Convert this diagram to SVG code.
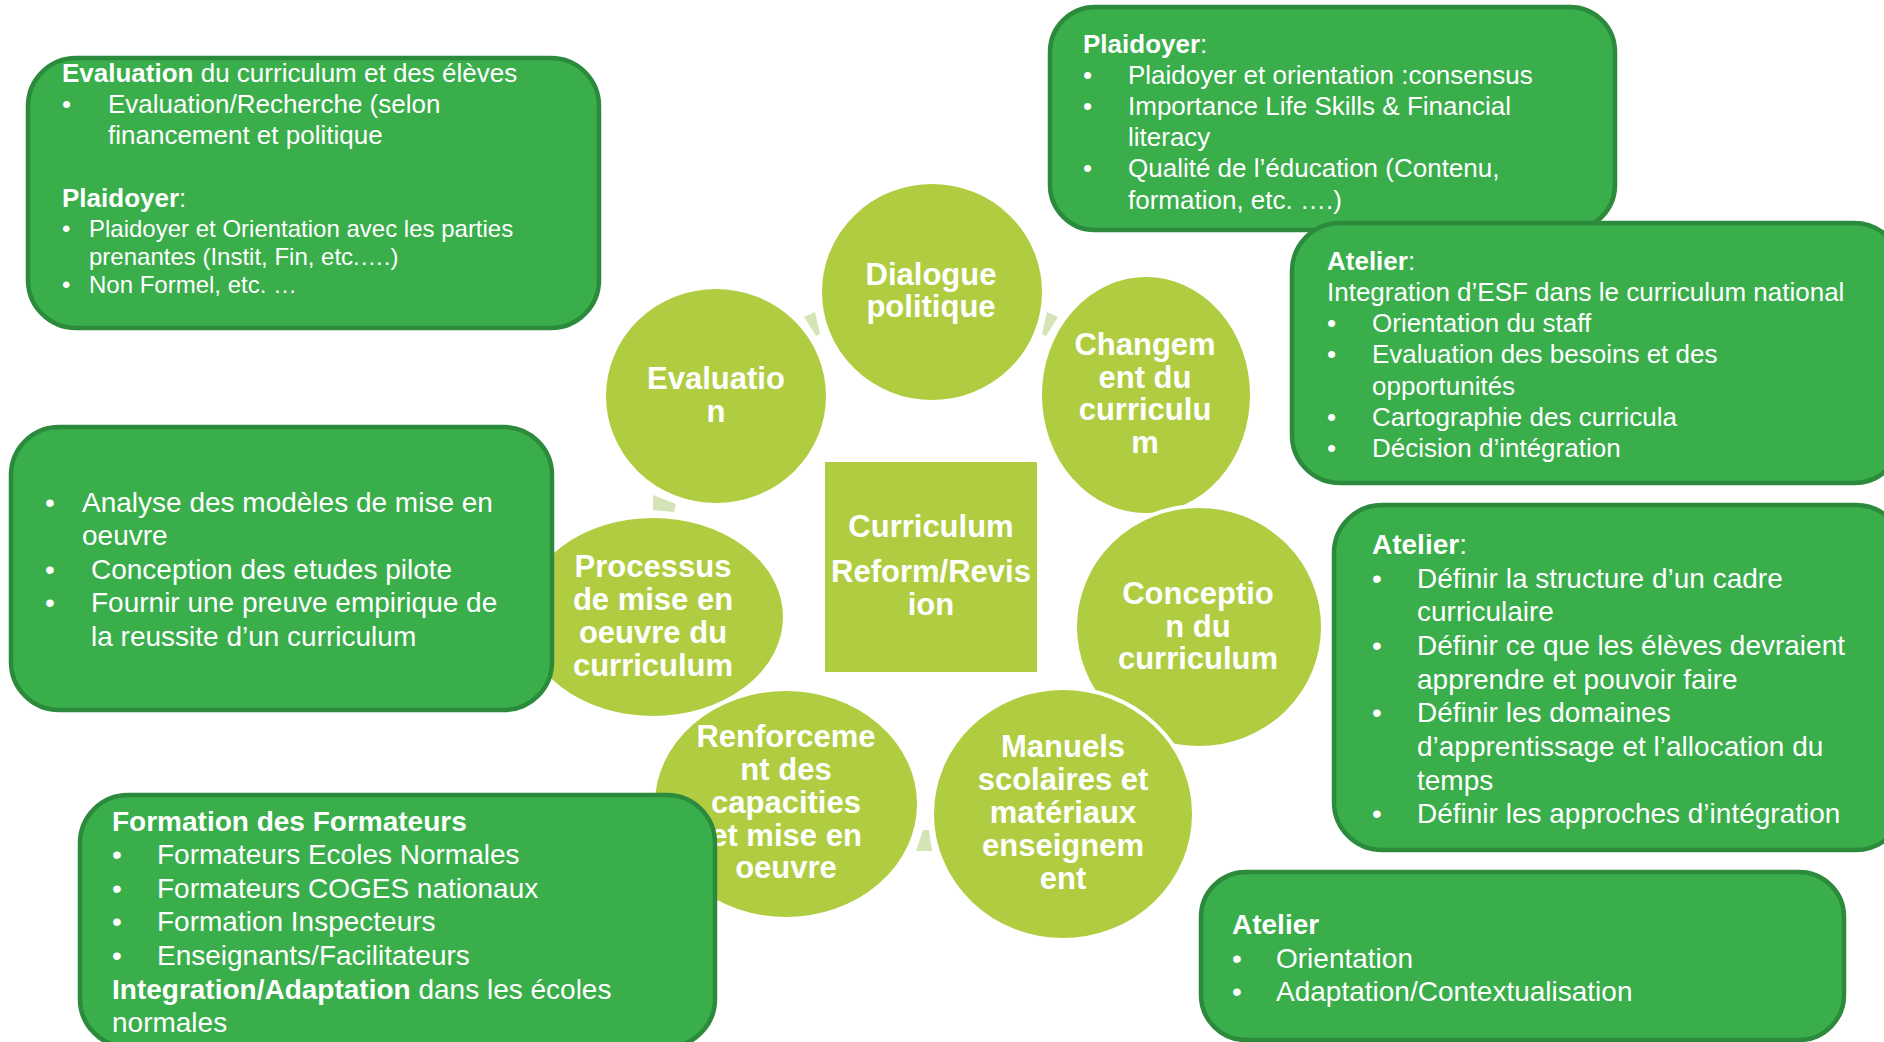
<svg xmlns="http://www.w3.org/2000/svg" width="1884" height="1042" viewBox="0 0 1884 1042">
<style>
.c{fill:#B0CD41;stroke:#FFFFFF;stroke-width:4}
.sq{fill:#B0CD41}
.ct{font-family:"Liberation Sans",Arial,sans-serif;font-weight:bold;font-size:31px;fill:#FFFFFF;text-anchor:middle}
.box{fill:#39AE4B;stroke:#2B8A3B;stroke-width:4.5}
.t{font-family:"Liberation Sans",Arial,sans-serif;fill:#FFFFFF}
.s24{font-size:24px}
.s26{font-size:26px}
.s28{font-size:28px}
.b{font-weight:bold}
.arr{fill:#D5E4B6}
</style>
<rect width="1884" height="1042" fill="#FFFFFF"/>
<g id="connectors">
<polygon class="arr" points="804,317 815,312 820,334 816,336"/>
<polygon class="arr" points="1058,317 1047,312 1042,334 1046,336"/>
<polygon class="arr" points="653,495 676,504 674,512 653,510"/>
<polygon class="arr" points="923,830 929,830 932,851 916,851"/>
</g>
<g id="node-dialogue">
<ellipse class="c" cx="932" cy="292" rx="112" ry="110"/>
<text class="ct" x="931" y="285">Dialogue</text>
<text class="ct" x="931" y="317">politique</text>
</g>
<g id="node-changement">
<ellipse class="c" cx="1146" cy="395" rx="106" ry="120"/>
<text class="ct" x="1145" y="355">Changem</text>
<text class="ct" x="1145" y="388">ent du</text>
<text class="ct" x="1145" y="420">curriculu</text>
<text class="ct" x="1145" y="453">m</text>
</g>
<g id="node-conception">
<ellipse class="c" cx="1199" cy="627" rx="124" ry="121"/>
<text class="ct" x="1198" y="604">Conceptio</text>
<text class="ct" x="1198" y="637">n du</text>
<text class="ct" x="1198" y="669">curriculum</text>
</g>
<g id="node-manuels">
<ellipse class="c" cx="1063" cy="814" rx="131" ry="126"/>
<text class="ct" x="1063" y="757">Manuels</text>
<text class="ct" x="1063" y="790">scolaires et</text>
<text class="ct" x="1063" y="823">matériaux</text>
<text class="ct" x="1063" y="856">enseignem</text>
<text class="ct" x="1063" y="889">ent</text>
</g>
<g id="node-renforcement">
<ellipse class="c" cx="786" cy="804" rx="133" ry="115"/>
<text class="ct" x="786" y="747">Renforceme</text>
<text class="ct" x="786" y="780">nt des</text>
<text class="ct" x="786" y="813">capacities</text>
<text class="ct" x="786" y="846">et mise en</text>
<text class="ct" x="786" y="878">oeuvre</text>
</g>
<g id="node-processus">
<ellipse class="c" cx="653" cy="617" rx="132" ry="101"/>
<text class="ct" x="653" y="577">Processus</text>
<text class="ct" x="653" y="610">de mise en</text>
<text class="ct" x="653" y="643">oeuvre du</text>
<text class="ct" x="653" y="676">curriculum</text>
</g>
<g id="node-evaluation">
<ellipse class="c" cx="716" cy="396" rx="112" ry="109"/>
<text class="ct" x="716" y="389">Evaluatio</text>
<text class="ct" x="716" y="422">n</text>
</g>
<g id="node-center">
<rect class="sq" x="825" y="462" width="212" height="210"/>
<text class="ct" x="931" y="537">Curriculum</text>
<text class="ct" x="931" y="582">Reform/Revis</text>
<text class="ct" x="931" y="615">ion</text>
</g>
<g id="box-evaluation">
<rect class="box" x="28" y="58" width="571" height="270" rx="48" ry="48"/>
<text class="t s26" x="62" y="82"><tspan class="b">Evaluation</tspan> du curriculum et des élèves</text>
<text class="t s26" x="62" y="113">•</text>
<text class="t s26" x="108" y="113">Evaluation/Recherche (selon</text>
<text class="t s26" x="108" y="144">financement et politique</text>
<text class="t s26" x="62" y="207"><tspan class="b">Plaidoyer</tspan>:</text>
<text class="t s24" x="62" y="237">•</text>
<text class="t s24" x="89" y="237">Plaidoyer et Orientation avec les parties</text>
<text class="t s24" x="89" y="265">prenantes (Instit, Fin, etc.….)</text>
<text class="t s24" x="62" y="293">•</text>
<text class="t s24" x="89" y="293">Non Formel, etc. …</text>
</g>
<g id="box-plaidoyer">
<rect class="box" x="1050" y="7" width="565" height="223" rx="45" ry="45"/>
<text class="t s26" x="1083" y="53"><tspan class="b">Plaidoyer</tspan>:</text>
<text class="t s26" x="1083" y="84">•</text>
<text class="t s26" x="1128" y="84">Plaidoyer et orientation :consensus</text>
<text class="t s26" x="1083" y="115">•</text>
<text class="t s26" x="1128" y="115">Importance Life Skills &amp; Financial</text>
<text class="t s26" x="1128" y="146">literacy</text>
<text class="t s26" x="1083" y="177">•</text>
<text class="t s26" x="1128" y="177">Qualité de l’éducation (Contenu,</text>
<text class="t s26" x="1128" y="209">formation, etc. ….)</text>
</g>
<g id="box-atelier-esf">
<rect class="box" x="1292" y="223" width="610" height="260" rx="48" ry="48"/>
<text class="t s26" x="1327" y="270"><tspan class="b">Atelier</tspan>:</text>
<text class="t s26" x="1327" y="301">Integration d’ESF dans le curriculum national</text>
<text class="t s26" x="1327" y="332">•</text>
<text class="t s26" x="1372" y="332">Orientation du staff</text>
<text class="t s26" x="1327" y="363">•</text>
<text class="t s26" x="1372" y="363">Evaluation des besoins et des</text>
<text class="t s26" x="1372" y="395">opportunités</text>
<text class="t s26" x="1327" y="426">•</text>
<text class="t s26" x="1372" y="426">Cartographie des curricula</text>
<text class="t s26" x="1327" y="457">•</text>
<text class="t s26" x="1372" y="457">Décision d’intégration</text>
</g>
<g id="box-analyse">
<rect class="box" x="11" y="427" width="541" height="283" rx="48" ry="48"/>
<text class="t s28" x="45" y="512">•</text>
<text class="t s28" x="82" y="512">Analyse des modèles de mise en</text>
<text class="t s28" x="82" y="545">oeuvre</text>
<text class="t s28" x="45" y="579">•</text>
<text class="t s28" x="91" y="579">Conception des etudes pilote</text>
<text class="t s28" x="45" y="612">•</text>
<text class="t s28" x="91" y="612">Fournir une preuve empirique de</text>
<text class="t s28" x="91" y="646">la reussite d’un curriculum</text>
</g>
<g id="box-atelier-definir">
<rect class="box" x="1334" y="505" width="570" height="345" rx="48" ry="48"/>
<text class="t s28" x="1372" y="554"><tspan class="b">Atelier</tspan>:</text>
<text class="t s28" x="1372" y="588">•</text>
<text class="t s28" x="1417" y="588">Définir la structure d’un cadre</text>
<text class="t s28" x="1417" y="621">curriculaire</text>
<text class="t s28" x="1372" y="655">•</text>
<text class="t s28" x="1417" y="655">Définir ce que les élèves devraient</text>
<text class="t s28" x="1417" y="689">apprendre et pouvoir faire</text>
<text class="t s28" x="1372" y="722">•</text>
<text class="t s28" x="1417" y="722">Définir les domaines</text>
<text class="t s28" x="1417" y="756">d’apprentissage et l’allocation du</text>
<text class="t s28" x="1417" y="790">temps</text>
<text class="t s28" x="1372" y="823">•</text>
<text class="t s28" x="1417" y="823">Définir les approches d’intégration</text>
</g>
<g id="box-formation">
<rect class="box" x="80" y="795" width="635" height="252" rx="48" ry="48"/>
<text class="t s28 b" x="112" y="831">Formation des Formateurs</text>
<text class="t s28" x="112" y="864">•</text>
<text class="t s28" x="157" y="864">Formateurs Ecoles Normales</text>
<text class="t s28" x="112" y="898">•</text>
<text class="t s28" x="157" y="898">Formateurs COGES nationaux</text>
<text class="t s28" x="112" y="931">•</text>
<text class="t s28" x="157" y="931">Formation Inspecteurs</text>
<text class="t s28" x="112" y="965">•</text>
<text class="t s28" x="157" y="965">Enseignants/Facilitateurs</text>
<text class="t s28" x="112" y="999"><tspan class="b">Integration/Adaptation</tspan> dans les écoles</text>
<text class="t s28" x="112" y="1032">normales</text>
</g>
<g id="box-atelier-orientation">
<rect class="box" x="1201" y="872" width="643" height="168" rx="45" ry="45"/>
<text class="t s28 b" x="1232" y="934">Atelier</text>
<text class="t s28" x="1232" y="968">•</text>
<text class="t s28" x="1276" y="968">Orientation</text>
<text class="t s28" x="1232" y="1001">•</text>
<text class="t s28" x="1276" y="1001">Adaptation/Contextualisation</text>
</g>
</svg>
